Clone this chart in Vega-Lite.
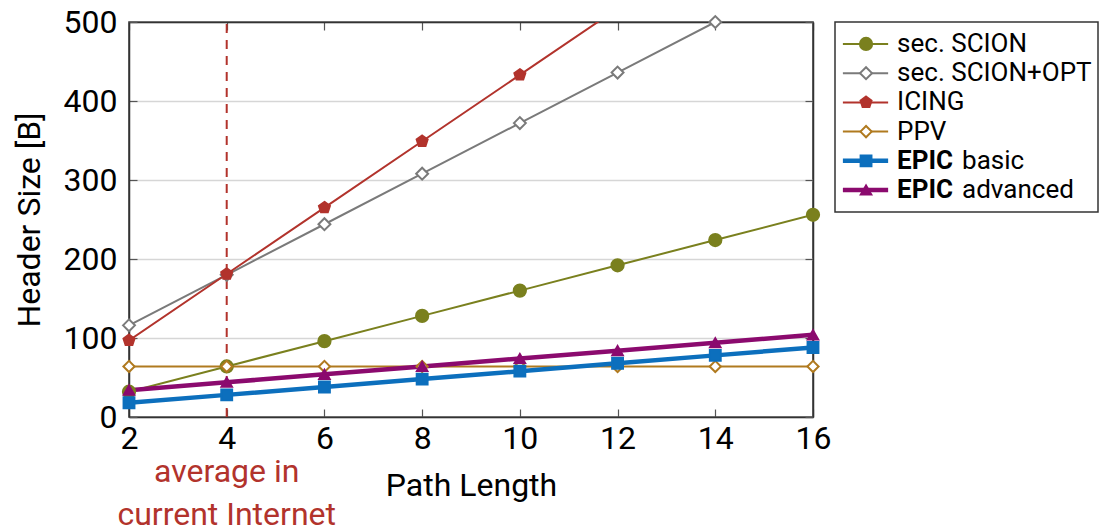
{
  "$schema": "https://vega.github.io/schema/vega-lite/v6.json",
  "background": "white",
  "padding": {"left": 12, "top": 5, "right": 5, "bottom": 0},
  "config": {
    "font": "Roboto",
    "view": {"stroke": "#333333", "strokeWidth": 1.5},
    "axis": {"labelFont": "Roboto", "titleFont": "Roboto", "labelColor": "black", "titleColor": "black", "titleFontWeight": "normal"}
  },
  "datasets": {
    "series": [
      {"x": 2, "y": 32, "s": "sec. SCION"}, {"x": 4, "y": 64, "s": "sec. SCION"}, {"x": 6, "y": 96, "s": "sec. SCION"}, {"x": 8, "y": 128, "s": "sec. SCION"},
      {"x": 10, "y": 160, "s": "sec. SCION"}, {"x": 12, "y": 192, "s": "sec. SCION"}, {"x": 14, "y": 224, "s": "sec. SCION"}, {"x": 16, "y": 256, "s": "sec. SCION"},
      {"x": 2, "y": 116, "s": "sec. SCION+OPT"}, {"x": 4, "y": 180, "s": "sec. SCION+OPT"}, {"x": 6, "y": 244, "s": "sec. SCION+OPT"}, {"x": 8, "y": 308, "s": "sec. SCION+OPT"},
      {"x": 10, "y": 372, "s": "sec. SCION+OPT"}, {"x": 12, "y": 436, "s": "sec. SCION+OPT"}, {"x": 14, "y": 500, "s": "sec. SCION+OPT"},
      {"x": 2, "y": 97, "s": "ICING"}, {"x": 4, "y": 181, "s": "ICING"}, {"x": 6, "y": 265, "s": "ICING"}, {"x": 8, "y": 349, "s": "ICING"},
      {"x": 10, "y": 433, "s": "ICING"}, {"x": 12, "y": 517, "s": "ICING"},
      {"x": 2, "y": 64, "s": "PPV"}, {"x": 4, "y": 64, "s": "PPV"}, {"x": 6, "y": 64, "s": "PPV"}, {"x": 8, "y": 64, "s": "PPV"},
      {"x": 10, "y": 64, "s": "PPV"}, {"x": 12, "y": 64, "s": "PPV"}, {"x": 14, "y": 64, "s": "PPV"}, {"x": 16, "y": 64, "s": "PPV"},
      {"x": 2, "y": 18, "s": "EPIC basic"}, {"x": 4, "y": 28, "s": "EPIC basic"}, {"x": 6, "y": 38, "s": "EPIC basic"}, {"x": 8, "y": 48, "s": "EPIC basic"},
      {"x": 10, "y": 58, "s": "EPIC basic"}, {"x": 12, "y": 68, "s": "EPIC basic"}, {"x": 14, "y": 78, "s": "EPIC basic"}, {"x": 16, "y": 88, "s": "EPIC basic"},
      {"x": 2, "y": 34, "s": "EPIC advanced"}, {"x": 4, "y": 44, "s": "EPIC advanced"}, {"x": 6, "y": 54, "s": "EPIC advanced"}, {"x": 8, "y": 64, "s": "EPIC advanced"},
      {"x": 10, "y": 74, "s": "EPIC advanced"}, {"x": 12, "y": 84, "s": "EPIC advanced"}, {"x": 14, "y": 94, "s": "EPIC advanced"}, {"x": 16, "y": 104, "s": "EPIC advanced"}
    ],
    "legend": [
      {"s": "sec. SCION", "bold": "", "rest": "sec. SCION"},
      {"s": "sec. SCION+OPT", "bold": "", "rest": "sec. SCION+OPT"},
      {"s": "ICING", "bold": "", "rest": "ICING"},
      {"s": "PPV", "bold": "", "rest": "PPV"},
      {"s": "EPIC basic", "bold": "EPIC", "rest": "basic"},
      {"s": "EPIC advanced", "bold": "EPIC", "rest": "advanced"}
    ]
  },
  "hconcat": [
    {
      "width": 684,
      "height": 395,
      "layer": [
        {
          "data": {"values": [{"v": 4}]},
          "mark": {"type": "rule", "color": "#b2332c", "strokeWidth": 2, "strokeDash": [9, 7]},
          "encoding": {
            "x": {"field": "v", "type": "quantitative", "scale": {"domain": [2, 16], "nice": false, "zero": false},
              "axis": {"orient": "top", "labels": false, "title": null, "grid": false, "tickSize": -8, "tickColor": "#555", "tickWidth": 1.2, "values": [2,4,6,8,10,12,14,16], "domainColor": "#333", "domainWidth": 1.5}},
            "y": {"datum": 0, "type": "quantitative", "scale": {"domain": [0, 500], "nice": false},
              "axis": {"orient": "right", "labels": false, "title": null, "grid": false, "tickSize": -8, "tickColor": "#555", "tickWidth": 1.2, "values": [0,100,200,300,400,500], "domainColor": "#333", "domainWidth": 1.5}},
            "y2": {"datum": 500}
          }
        },
        {
          "data": {"name": "series"},
          "mark": {"type": "line", "clip": true},
          "encoding": {
            "x": {"field": "x", "type": "quantitative",
              "axis": {"orient": "bottom", "title": "Path Length", "titleFontSize": 32, "titlePadding": 16, "labelFontSize": 32, "labelPadding": 14, "tickSize": -8, "tickColor": "#555", "tickWidth": 1.2, "values": [2,4,6,8,10,12,14,16], "grid": false, "domainColor": "#333", "domainWidth": 1.5, "labelFlush": false}},
            "y": {"field": "y", "type": "quantitative",
              "axis": {"orient": "left", "title": "Header Size [B]", "titleFontSize": 32, "titlePadding": 17, "labelFontSize": 32, "labelPadding": 20, "tickSize": -8, "tickColor": "#555", "tickWidth": 1.2, "values": [0,100,200,300,400,500], "grid": true, "gridColor": "#d6d6d6", "gridWidth": 1.5, "domainColor": "#333", "domainWidth": 1.5, "labelFlush": false}},
            "color": {"field": "s", "type": "nominal", "legend": null,
              "scale": {"domain": ["sec. SCION", "sec. SCION+OPT", "ICING", "PPV", "EPIC basic", "EPIC advanced"],
                "range": ["#7a801e", "#7a7a7a", "#b2332c", "#b07a1f", "#0c6fbd", "#8b0a6e"]}},
            "strokeWidth": {"condition": {"test": "indexof(datum.s, 'EPIC') >= 0", "value": 4.5}, "value": 2},
            "order": {"field": "x", "type": "quantitative"}
          }
        },
        {
          "data": {"name": "series"},
          "transform": [{"filter": "datum.y <= 500"}],
          "mark": {"type": "point", "filled": true, "strokeWidth": 2, "opacity": 1},
          "encoding": {
            "x": {"field": "x", "type": "quantitative", "axis": null},
            "y": {"field": "y", "type": "quantitative", "axis": null},
            "fill": {"field": "s", "type": "nominal", "legend": null,
              "scale": {"domain": ["sec. SCION", "sec. SCION+OPT", "ICING", "PPV", "EPIC basic", "EPIC advanced"],
                "range": ["#7a801e", "white", "#b2332c", "white", "#0c6fbd", "#8b0a6e"]}},
            "stroke": {"field": "s", "type": "nominal", "legend": null,
              "scale": {"domain": ["sec. SCION", "sec. SCION+OPT", "ICING", "PPV", "EPIC basic", "EPIC advanced"],
                "range": ["#7a801e", "#7a7a7a", "#b2332c", "#b07a1f", "#0c6fbd", "#8b0a6e"]}},
            "shape": {"field": "s", "type": "nominal", "legend": null,
              "scale": {"domain": ["sec. SCION", "sec. SCION+OPT", "ICING", "PPV", "EPIC basic", "EPIC advanced"],
                "range": ["circle", "diamond", "M0,-1L0.951,-0.309L0.588,0.809L-0.588,0.809L-0.951,-0.309Z", "diamond", "square", "triangle-up"]}},
            "size": {"field": "s", "type": "nominal", "legend": null,
              "scale": {"domain": ["sec. SCION", "sec. SCION+OPT", "ICING", "PPV", "EPIC basic", "EPIC advanced"], "range": [150, 110, 150, 70, 280, 280]}}
          }
        },
        {
          "data": {"values": [{"v": 4, "t": ["average in", "current Internet"]}]},
          "mark": {"type": "text", "color": "#b2332c", "fontSize": 32, "baseline": "middle", "align": "center", "lineHeight": 43, "clip": false},
          "encoding": {
            "x": {"field": "v", "type": "quantitative", "axis": null},
            "y": {"datum": -70, "axis": null},
            "text": {"field": "t"}
          }
        }
      ],
      "resolve": {"axis": {"x": "independent", "y": "independent"}}
    },
    {
      "width": 263,
      "height": 190,
      "data": {"name": "legend"},
      "encoding": {
        "y": {"field": "s", "type": "nominal", "axis": null,
          "scale": {"type": "point", "padding": 0.75, "domain": ["sec. SCION", "sec. SCION+OPT", "ICING", "PPV", "EPIC basic", "EPIC advanced"]}}
      },
      "layer": [
        {
          "mark": {"type": "rule"},
          "encoding": {
            "x": {"datum": 3.0, "type": "quantitative", "scale": {"domain": [0, 100], "nice": false}, "axis": null},
            "x2": {"datum": 20.2},
            "color": {"field": "s", "type": "nominal", "legend": null,
              "scale": {"domain": ["sec. SCION", "sec. SCION+OPT", "ICING", "PPV", "EPIC basic", "EPIC advanced"],
                "range": ["#7a801e", "#7a7a7a", "#b2332c", "#b07a1f", "#0c6fbd", "#8b0a6e"]}},
            "strokeWidth": {"condition": {"test": "indexof(datum.s, 'EPIC') >= 0", "value": 4.5}, "value": 2}
          }
        },
        {
          "mark": {"type": "point", "filled": true, "strokeWidth": 2, "opacity": 1},
          "encoding": {
            "x": {"datum": 11.8, "type": "quantitative"},
            "fill": {"field": "s", "type": "nominal", "legend": null,
              "scale": {"domain": ["sec. SCION", "sec. SCION+OPT", "ICING", "PPV", "EPIC basic", "EPIC advanced"],
                "range": ["#7a801e", "white", "#b2332c", "white", "#0c6fbd", "#8b0a6e"]}},
            "stroke": {"field": "s", "type": "nominal", "legend": null,
              "scale": {"domain": ["sec. SCION", "sec. SCION+OPT", "ICING", "PPV", "EPIC basic", "EPIC advanced"],
                "range": ["#7a801e", "#7a7a7a", "#b2332c", "#b07a1f", "#0c6fbd", "#8b0a6e"]}},
            "shape": {"field": "s", "type": "nominal", "legend": null,
              "scale": {"domain": ["sec. SCION", "sec. SCION+OPT", "ICING", "PPV", "EPIC basic", "EPIC advanced"],
                "range": ["circle", "diamond", "M0,-1L0.951,-0.309L0.588,0.809L-0.588,0.809L-0.951,-0.309Z", "diamond", "square", "triangle-up"]}},
            "size": {"field": "s", "type": "nominal", "legend": null,
              "scale": {"domain": ["sec. SCION", "sec. SCION+OPT", "ICING", "PPV", "EPIC basic", "EPIC advanced"], "range": [150, 110, 150, 70, 280, 280]}}
          }
        },
        {
          "transform": [{"filter": "datum.bold == ''"}],
          "mark": {"type": "text", "align": "left", "baseline": "middle", "fontSize": 26, "color": "black"},
          "encoding": {
            "x": {"datum": 23.6, "type": "quantitative"},
            "text": {"field": "rest"}
          }
        },
        {
          "transform": [{"filter": "datum.bold != ''"}],
          "mark": {"type": "text", "align": "left", "baseline": "middle", "fontSize": 26, "fontWeight": "bold", "color": "black"},
          "encoding": {
            "x": {"datum": 23.6, "type": "quantitative"},
            "text": {"field": "bold"}
          }
        },
        {
          "transform": [{"filter": "datum.bold != ''"}],
          "mark": {"type": "text", "align": "left", "baseline": "middle", "fontSize": 26, "color": "black", "dx": 65},
          "encoding": {
            "x": {"datum": 23.6, "type": "quantitative"},
            "text": {"field": "rest"}
          }
        }
      ]
    }
  ],
  "spacing": 22,
  "bounds": "flush"
}
